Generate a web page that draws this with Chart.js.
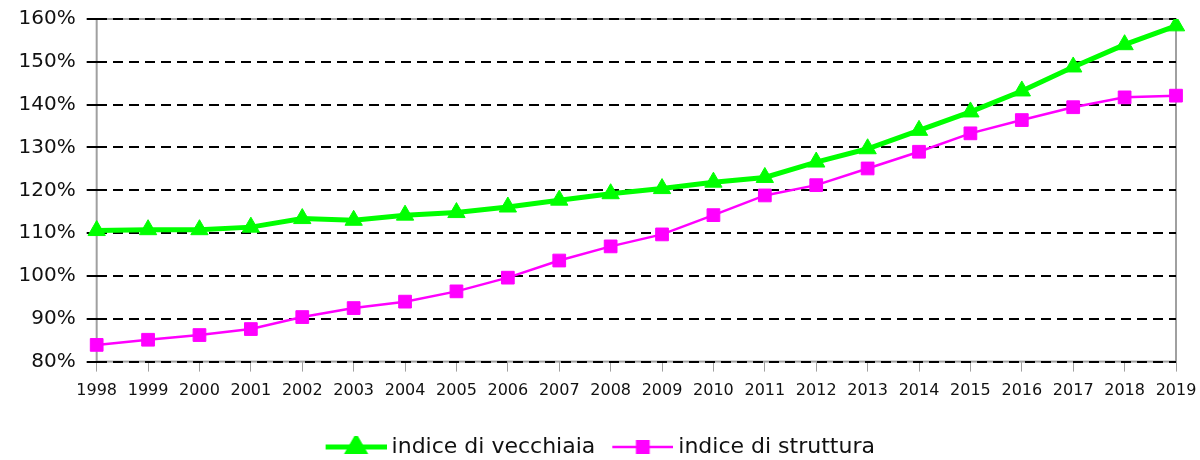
<!DOCTYPE html>
<html>
<head>
<meta charset="utf-8">
<script src="https://cdn.jsdelivr.net/npm/chart.js@4/dist/chart.umd.min.js"></script>
<style>
  html, body { margin: 0; padding: 0; background: #fff; }
  #wrap { width: 1200px; height: 460px; }
</style>
</head>
<body>
<div id="wrap"><canvas id="chart"></canvas></div>
<script>
// Indici demografici 1998-2019
const years = ['1998', '1999', '2000', '2001', '2002', '2003', '2004', '2005', '2006', '2007', '2008',
  '2009', '2010', '2011', '2012', '2013', '2014', '2015', '2016', '2017', '2018', '2019'];

const vecchiaia = [110.6, 110.8, 110.8, 111.4, 113.4, 113.0, 114.2, 114.8, 116.1, 117.7, 119.2,
  120.4, 121.9, 123.0, 126.6, 129.7, 134.0, 138.3, 143.2, 148.8, 154.0, 158.4];

const struttura = [83.9, 85.1, 86.2, 87.6, 90.4, 92.5, 94.0, 96.4, 99.6, 103.6, 106.9,
  109.7, 114.2, 118.8, 121.2, 125.1, 129.0, 133.3, 136.4, 139.4, 141.7, 142.1];

const yTicks = [80, 90, 100, 110, 120, 130, 140, 150, 160];

const FONT = 'DejaVu Sans, Verdana, sans-serif';
const GREEN = '#00ff00';
const MAGENTA = '#ff00ff';
const FRAME = '#a0a0a0';

// legend icon: line with the marker in the middle
// (blank on the left acts as the gap between legend items)
function legendIcon(ds) {
  const c = document.createElement('canvas');
  c.width = 84;
  c.height = 22;
  const ctx = c.getContext('2d');
  const x0 = 23;
  ctx.strokeStyle = ds.borderColor;
  ctx.lineWidth = ds.borderWidth;
  ctx.beginPath();
  ctx.moveTo(x0, c.height / 2);
  ctx.lineTo(c.width, c.height / 2);
  ctx.stroke();
  ctx.fillStyle = ds.pointBackgroundColor;
  ctx.strokeStyle = ds.pointBorderColor;
  Chart.helpers.drawPoint(ctx, {
    pointStyle: ds.pointStyle,
    radius: ds.pointRadius - 1,
    borderWidth: ds.pointBorderWidth,
    rotation: 0
  }, (x0 + c.width) / 2, c.height / 2);
  return c;
}

// grey frame round the plot area, under the grid
const frame = {
  id: 'frame',
  beforeDraw(chart) {
    const a = chart.chartArea;
    const ctx = chart.ctx;
    ctx.save();
    ctx.strokeStyle = FRAME;
    ctx.lineWidth = 2;
    ctx.strokeRect(a.left, a.top, a.right - a.left, a.bottom - a.top);
    ctx.restore();
  }
};

new Chart(document.getElementById('chart'), {
  type: 'line',
  data: {
    labels: years,
    datasets: [{
      label: 'indice di vecchiaia',
      data: vecchiaia,
      borderColor: GREEN,
      backgroundColor: GREEN,
      borderWidth: 5,
      pointStyle: 'triangle',
      pointRadius: 10,
      pointBackgroundColor: GREEN,
      pointBorderColor: GREEN,
      pointBorderWidth: 1,
      tension: 0
    }, {
      label: 'indice di struttura',
      data: struttura,
      borderColor: MAGENTA,
      backgroundColor: MAGENTA,
      borderWidth: 2.5,
      pointStyle: 'rect',
      pointRadius: 9,
      pointBackgroundColor: MAGENTA,
      pointBorderColor: MAGENTA,
      pointBorderWidth: 1,
      tension: 0
    }]
  },
  options: {
    responsive: true,
    maintainAspectRatio: false,
    animation: false,
    layout: { padding: { left: 7.5, right: 24, top: 19, bottom: -8 } },
    plugins: {
      tooltip: { enabled: false },
      legend: {
        position: 'bottom',
        labels: {
          usePointStyle: true,
          pointStyleWidth: 72,
          boxHeight: 22,
          padding: 0,
          color: '#111',
          font: { family: FONT, size: 22 },
          generateLabels(chart) {
            return chart.data.datasets.map((ds, i) => ({
              text: ds.label,
              pointStyle: legendIcon(ds),
              fontColor: '#111',
              lineWidth: 0,
              datasetIndex: i
            }));
          }
        }
      }
    },
    scales: {
      x: {
        offset: false,
        afterFit(scale) {
          scale.paddingLeft = 0;
          scale.paddingRight = 0;
        },
        grid: {
          drawOnChartArea: false,
          drawTicks: true,
          tickLength: 10,
          color: FRAME,
          lineWidth: 1
        },
        border: { display: false },
        // empty title only keeps room between the years and the legend
        title: { display: true, text: '', font: { size: 1 }, padding: { top: 0, bottom: 24 } },
        ticks: {
          color: '#111',
          padding: 10,
          maxRotation: 0,
          autoSkip: false,
          font: { family: FONT, size: 16 }
        }
      },
      y: {
        min: 80,
        max: 160,
        afterBuildTicks(scale) {
          scale.ticks = yTicks.map(v => ({ value: v }));
        },
        afterFit(scale) {
          scale.paddingTop = 0;
          scale.paddingBottom = 0;
        },
        grid: {
          color: '#000',
          lineWidth: 2,
          tickLength: 10
        },
        border: { display: false, dash: [10, 6] },
        ticks: {
          color: '#111',
          padding: 11,
          font: { family: FONT, size: 20 },
          callback: v => v + '%'
        }
      }
    }
  },
  plugins: [frame]
});
</script>
</body>
</html>
